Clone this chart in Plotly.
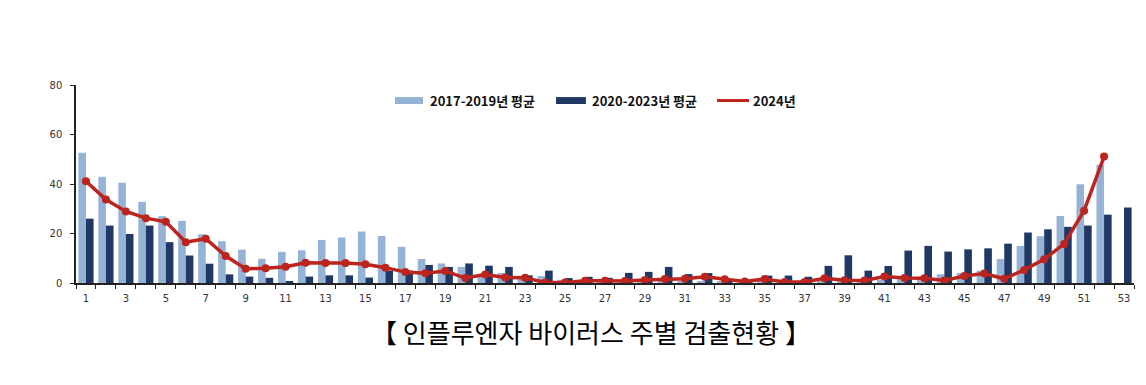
import plotly.graph_objects as go

weeks = list(range(1, 54))

avg_2017_2019 = [52.6, 42.9, 40.5, 32.8, 27.0, 25.1, 19.7, 16.9, 13.5, 9.8,
                 12.6, 13.2, 17.4, 18.4, 20.8, 19.0, 14.6, 9.7, 7.9, 6.5,
                 3.5, 4.0, 2.0, 2.8, 1.3, 1.0, 0.8, 0.8, 0.8, 0.8,
                 0.9, 0.8, 0.8, 0.7, 0.8, 0.8, 0.9, 1.0, 1.0, 1.2,
                 1.3, 1.5, 1.8, 3.5, 4.1, 5.0, 9.7, 15.0, 18.9, 27.1,
                 39.9, 47.8, None]

avg_2020_2023 = [26.0, 23.2, 19.8, 23.2, 16.5, 11.1, 7.8, 3.5, 2.6, 2.1,
                 0.8, 2.6, 3.1, 3.1, 2.2, 5.0, 5.0, 7.3, 6.5, 7.9,
                 7.0, 6.5, 3.1, 5.0, 2.0, 2.5, 2.1, 4.1, 4.5, 6.5,
                 3.6, 4.0, 1.6, 1.2, 3.0, 3.0, 2.5, 6.9, 11.2, 5.0,
                 6.9, 13.1, 15.0, 12.7, 13.6, 14.0, 15.9, 20.4, 21.7, 22.7,
                 23.2, 27.6, 30.5]

y2024 = [41.1, 33.7, 28.9, 26.2, 24.7, 16.5, 17.9, 10.9, 5.8, 6.0,
         6.6, 8.2, 8.1, 8.1, 7.6, 6.2, 4.4, 3.9, 4.8, 2.0,
         3.4, 2.2, 2.1, 0.2, 0.2, 0.9, 0.9, 0.8, 1.2, 1.6,
         1.7, 2.5, 1.5, 0.6, 1.6, 0.4, 0.4, 1.9, 1.1, 1.0,
         2.6, 2.0, 1.9, 1.0, 2.8, 3.8, 1.7, 5.3, 9.6, 15.8,
         29.2, 51.1, None]

xtick_labels = [str(w) for w in range(1, 54, 2)]
ytick_vals = [0, 20, 40, 60, 80]

series_names = ["2017-2019년 평균", "2020-2023년 평균", "2024년"]
title_text = "【 인플루엔자 바이러스 주별 검출현황 】"

LIGHT = "rgb(149,179,215)"
DARK = "rgb(31,56,100)"
RED = "rgb(190,36,30)"

fig = go.Figure()
fig.add_trace(go.Bar(x=weeks, y=avg_2017_2019, name=series_names[0],
                     marker=dict(color=LIGHT, line=dict(width=0)), showlegend=False))
fig.add_trace(go.Bar(x=weeks, y=avg_2020_2023, name=series_names[1],
                     marker=dict(color=DARK, line=dict(width=0)), showlegend=False))
fig.add_trace(go.Scatter(x=weeks, y=y2024, name=series_names[2], mode="lines+markers",
                         line=dict(color=RED, width=3.5),
                         marker=dict(color=RED, size=8), showlegend=False))

# custom legend (wide swatches like the original)
legend_y0, legend_y1 = 0.904, 0.939
fig.add_shape(type="rect", xref="paper", yref="paper", x0=0.3015, x1=0.328,
              y0=legend_y0, y1=legend_y1, fillcolor=LIGHT, line=dict(width=0))
fig.add_shape(type="rect", xref="paper", yref="paper", x0=0.4537, x1=0.482,
              y0=legend_y0, y1=legend_y1, fillcolor=DARK, line=dict(width=0))
fig.add_shape(type="line", xref="paper", yref="paper", x0=0.6059, x1=0.6361,
              y0=(legend_y0 + legend_y1) / 2, y1=(legend_y0 + legend_y1) / 2,
              line=dict(color=RED, width=3))
for xpos, txt in zip([0.3327, 0.4858, 0.638], series_names):
    fig.add_annotation(x=xpos, y=(legend_y0 + legend_y1) / 2, xref="paper", yref="paper",
                       text="<b>" + txt + "</b>", showarrow=False, xanchor="left",
                       yanchor="middle",
                       font=dict(family="Noto Sans CJK KR", size=13, color="#111111"))

fig.add_annotation(x=0.487, y=-0.245, xref="paper", yref="paper", text=title_text,
                   showarrow=False, xanchor="center", yanchor="middle",
                   font=dict(family="Noto Sans CJK KR", size=26, color="#000000"))

fig.update_layout(
    width=1146, height=385,
    margin=dict(l=68, r=20, t=77, b=110),
    paper_bgcolor="white", plot_bgcolor="white",
    barmode="group", bargap=0.24, bargroupgap=0.0,
    font=dict(family="DejaVu Sans", size=10, color="#333333"),
)
fig.update_xaxes(
    range=[0.5, 53.5], tickmode="array",
    tickvals=list(range(1, 54, 2)), ticktext=xtick_labels,
    ticks="", showgrid=False, zeroline=False,
    showline=True, linecolor="#222222", linewidth=1.5,
    tickfont=dict(family="DejaVu Sans", size=10, color="#333333"),
    ticklabelstandoff=5,
    minor=dict(tick0=0.5, dtick=1, ticks="outside", ticklen=4,
               tickcolor="#222222", tickwidth=1, showgrid=False),
)
fig.update_yaxes(
    range=[0, 80], tickmode="array", tickvals=ytick_vals,
    ticks="outside", ticklen=4, tickcolor="#222222", tickwidth=1,
    showgrid=False, zeroline=False,
    showline=True, linecolor="#222222", linewidth=1.5,
    tickfont=dict(family="DejaVu Sans", size=10, color="#333333"),
    ticklabelstandoff=6,
)

fig.write_html("out.html")
